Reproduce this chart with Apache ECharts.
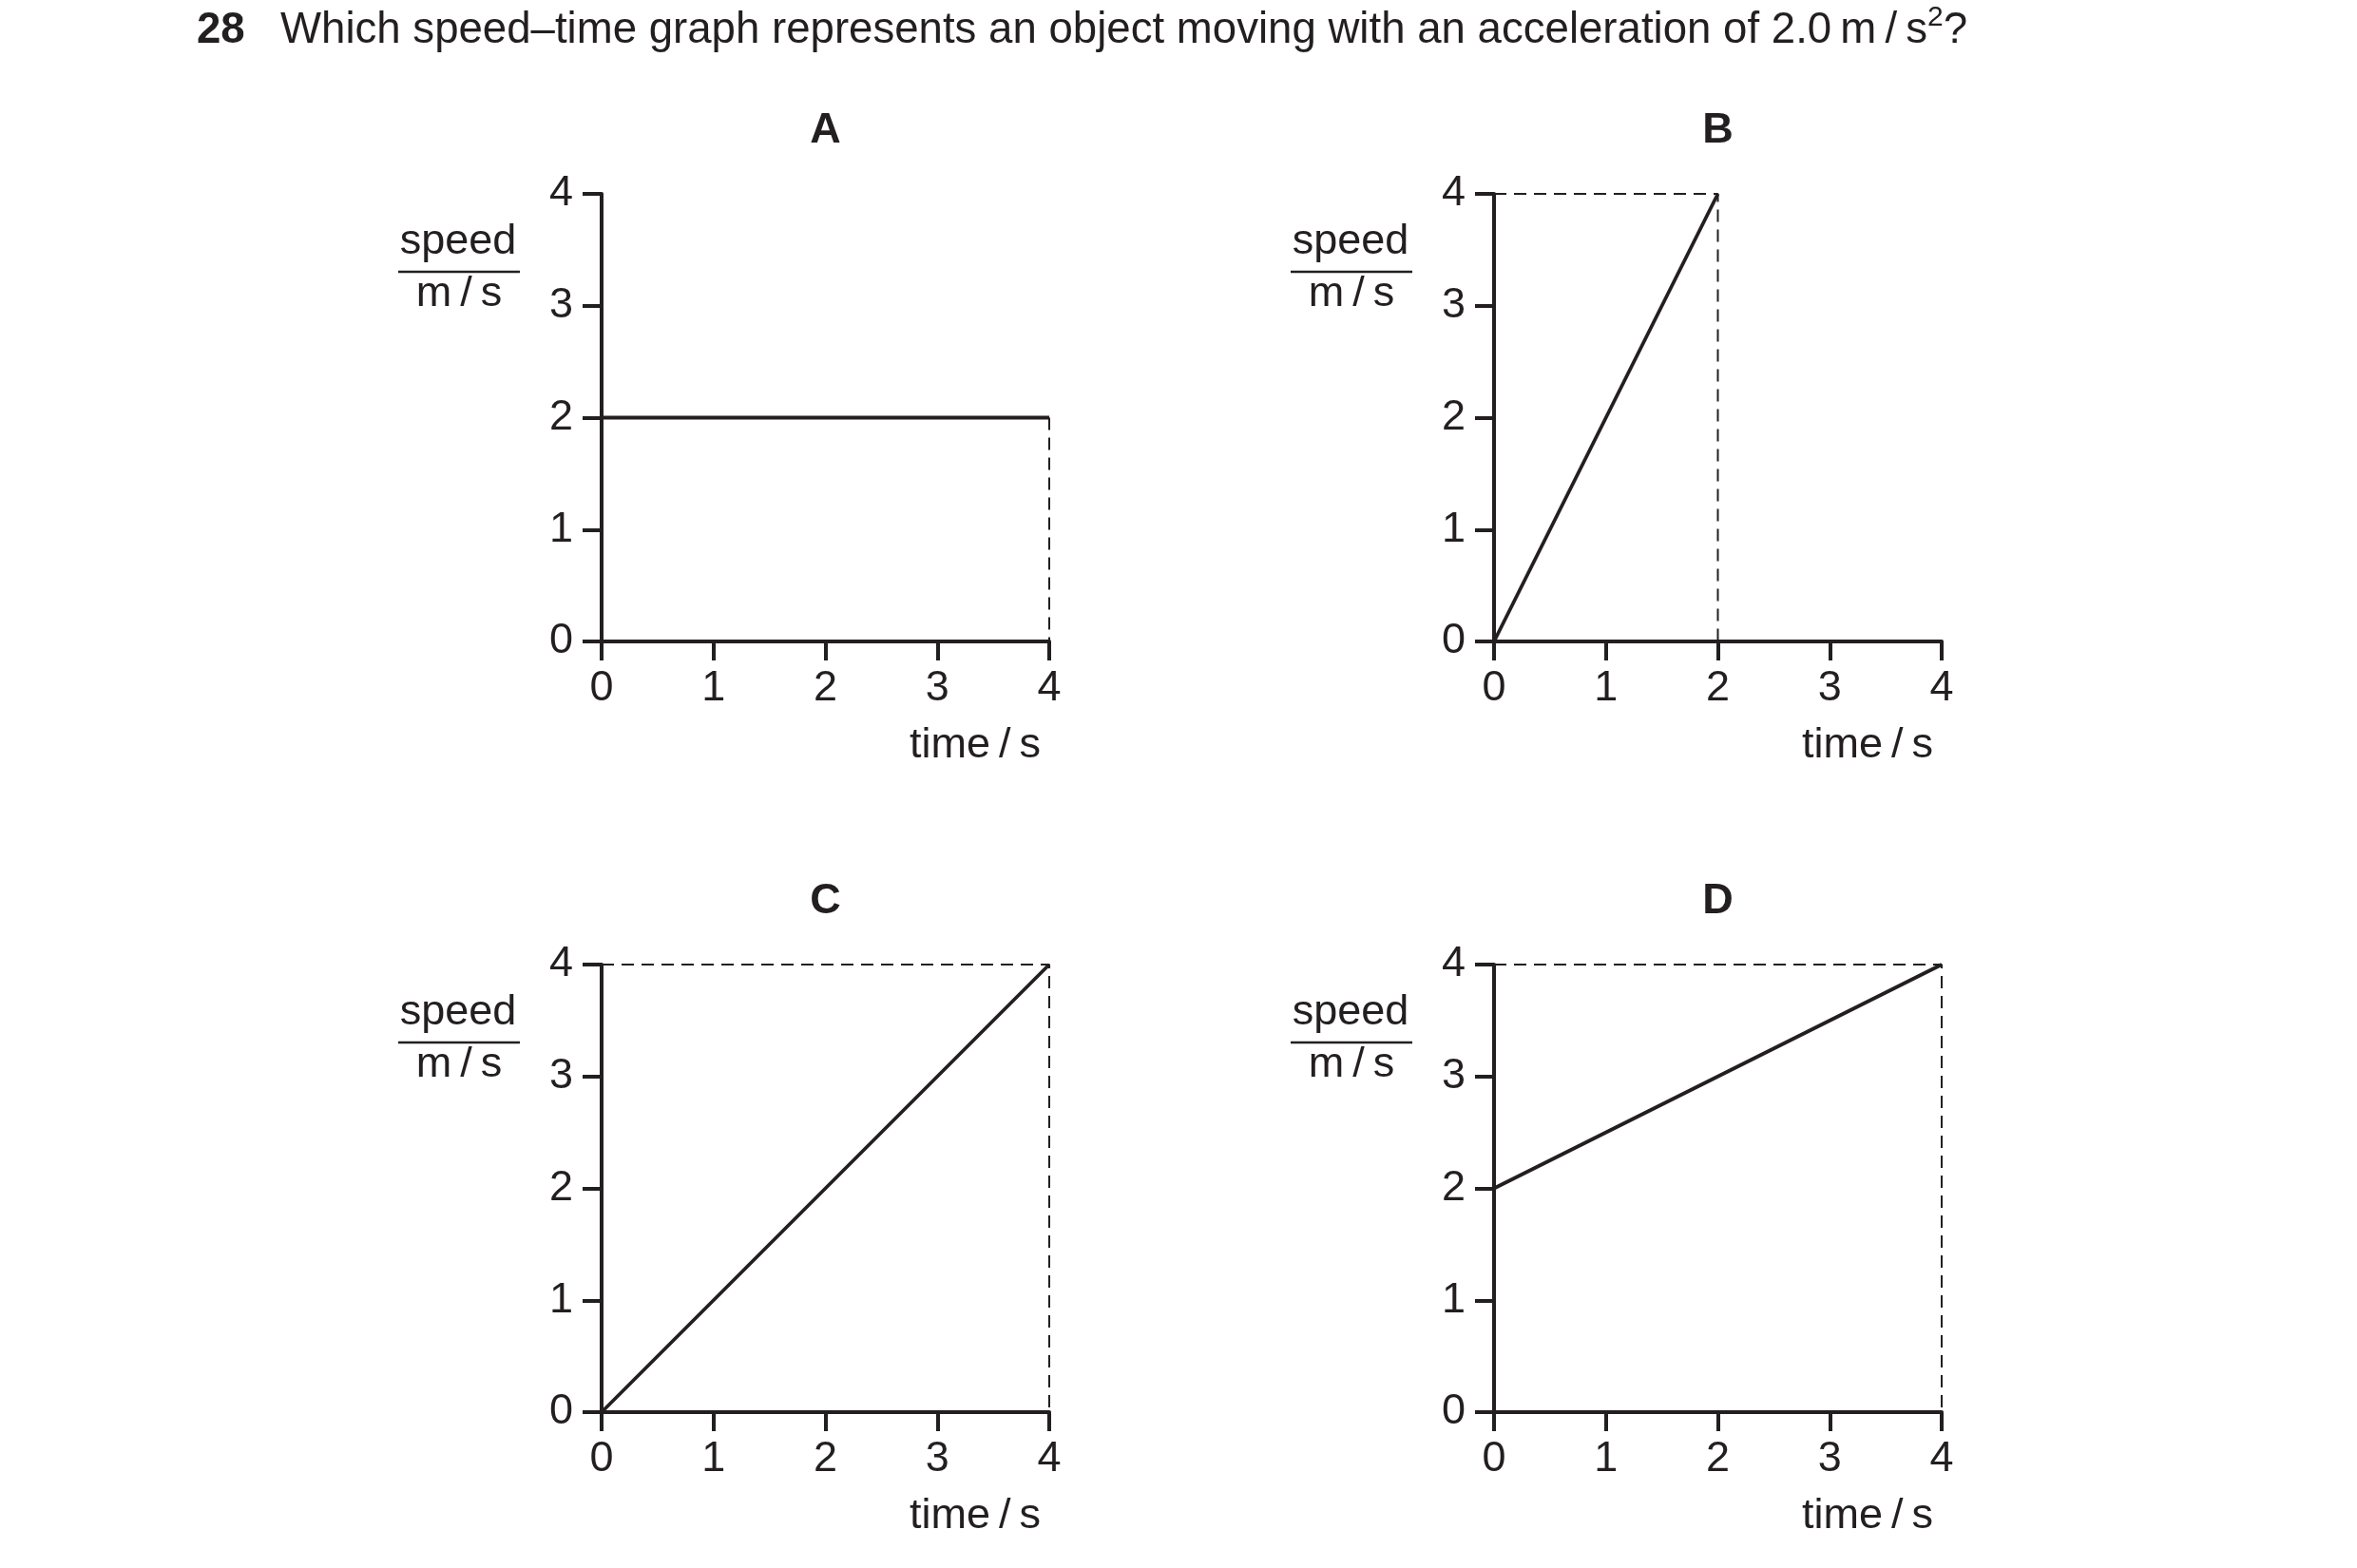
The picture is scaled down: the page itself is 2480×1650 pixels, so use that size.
<!DOCTYPE html>
<html><head><meta charset="utf-8">
<script src="https://cdn.jsdelivr.net/npm/echarts@6/dist/echarts.min.js"></script>
<style>html,body{margin:0;padding:0;background:#fff}#c{width:2480px;height:1650px}</style>
</head><body><div id="c"></div>
<script>
// ---- data ----
const questionNumber = '28';
const questionText = 'Which speed\u2013time graph represents an object moving with an acceleration of 2.0\u2009m\u2009/\u2009s';
const panelLabels = ['A', 'B', 'C', 'D'];
const timeTicks = ['0', '1', '2', '3', '4'];
const speedTicks = ['0', '1', '2', '3', '4'];
const speedA = [[0, 2], [4, 2]];
const speedB = [[0, 0], [2, 4]];
const speedC = [[0, 0], [4, 4]];
const speedD = [[0, 2], [4, 4]];
const guideA = [[4, 2], [4, 0]];
const guideB = [[0, 4], [2, 4], [2, 0]];
const guideC = [[0, 4], [4, 4], [4, 0]];
const guideD = [[0, 4], [4, 4], [4, 0]];
const yName = 'speed';
const yUnit = 'm\u2009/\u2009s';
const xName = 'time\u2009/\u2009s';

// ---- style / layout ----
const INK = '#231f20';
const FONT = '"Liberation Sans", Arial, Helvetica, sans-serif';
const FS = 45;
const TITLE_FS = 45.6;
const PLOT = 471;
const boxes = [{left: 633, top: 204}, {left: 1572, top: 204}, {left: 633, top: 1015}, {left: 1572, top: 1015}];
const speeds = [speedA, speedB, speedC, speedD];
const guides = [guideA, guideB, guideC, guideD];

const grid = [], xAxis = [], yAxis = [], series = [], graphic = [];
boxes.forEach((b, i) => {
  grid.push({left: b.left, top: b.top, width: PLOT, height: PLOT, containLabel: false});
  const common = {
    type: 'value', min: 0, max: 4, interval: 1, gridIndex: i,
    splitLine: {show: false},
    axisLine: {show: true, onZero: false, lineStyle: {color: INK, width: 4}},
    axisTick: {show: true, length: 20, lineStyle: {color: INK, width: 4}},
  };
  xAxis.push(Object.assign({}, common, {
    axisLabel: {color: INK, fontSize: FS, fontFamily: FONT, margin: 27,
      formatter: v => timeTicks[Math.round(v)]}
  }));
  yAxis.push(Object.assign({}, common, {
    axisLabel: {color: INK, fontSize: FS, fontFamily: FONT, margin: 30,
      formatter: v => speedTicks[Math.round(v)]}
  }));
  series.push({
    type: 'line', xAxisIndex: i, yAxisIndex: i, data: guides[i], symbol: 'none', clip: false,
    lineStyle: {color: INK, width: 2, type: [13, 8]}, z: 2, silent: true
  });
  series.push({
    type: 'line', xAxisIndex: i, yAxisIndex: i, data: speeds[i], symbol: 'none', clip: false,
    lineStyle: {color: INK, width: 3.8}, z: 3, silent: true
  });
  const tf = {fill: INK, fontFamily: FONT, fontSize: FS};
  graphic.push({type: 'text', x: b.left + PLOT / 2, y: b.top - 66,
    style: Object.assign({}, tf, {text: panelLabels[i], fontWeight: 'bold', align: 'center', verticalAlign: 'middle'})});
  graphic.push({type: 'text', x: b.left - 151, y: b.top + 51,
    style: Object.assign({}, tf, {text: yName, align: 'center', verticalAlign: 'middle'})});
  graphic.push({type: 'line', shape: {x1: b.left - 214, y1: b.top + 82, x2: b.left - 86, y2: b.top + 82},
    style: {stroke: INK, lineWidth: 2.5}});
  graphic.push({type: 'text', x: b.left - 150, y: b.top + 106,
    style: Object.assign({}, tf, {text: yUnit, align: 'center', verticalAlign: 'middle'})});
  graphic.push({type: 'text', x: b.left + PLOT - 9, y: b.top + PLOT + 110,
    style: Object.assign({}, tf, {text: xName, align: 'right', verticalAlign: 'middle'})});
});

graphic.push({type: 'text', x: 207, y: 32,
  style: {text: questionNumber, fill: INK, fontFamily: FONT, fontSize: TITLE_FS, fontWeight: 'bold', align: 'left', verticalAlign: 'middle'}});
graphic.push({type: 'text', x: 295, y: 32,
  style: {text: questionText + '{sup|2}?', fill: INK, fontFamily: FONT, fontSize: TITLE_FS, align: 'left', verticalAlign: 'middle',
    lineHeight: 56,
    rich: {sup: {fontSize: 30, lineHeight: 28, verticalAlign: 'top', fill: INK, fontFamily: FONT}}}});

const chart = echarts.init(document.getElementById('c'), null, {renderer: 'canvas'});
chart.setOption({backgroundColor: '#ffffff', animation: false, grid, xAxis, yAxis, series, graphic});
</script>
</body></html>
